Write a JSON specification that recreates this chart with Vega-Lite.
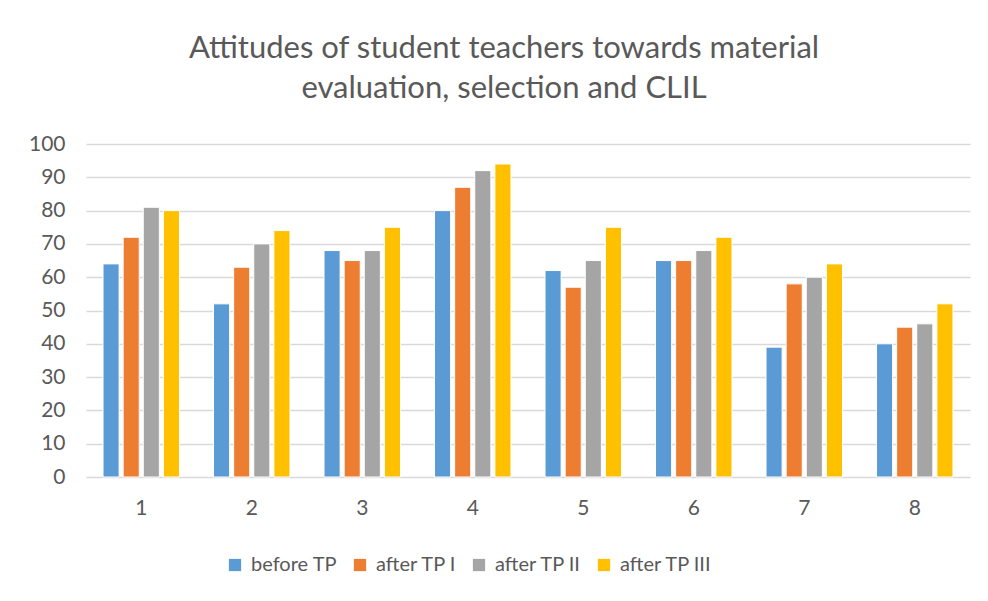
{
  "$schema": "https://vega.github.io/schema/vega-lite/v6.json",
  "width": 884,
  "height": 333,
  "autosize": {"type": "none"},
  "padding": {"left": 86, "top": 144, "right": 18, "bottom": 124},
  "background": "white",
  "title": {
    "text": ["Attitudes of student teachers towards material", "evaluation, selection and CLIL"],
    "font": "Lato",
    "fontSize": 31,
    "fontWeight": "normal",
    "color": "#595959",
    "anchor": "middle",
    "lineHeight": 40,
    "offset": 28,
    "dx": -24
  },
  "data": {
    "values": [
      {"group": "1", "series": "before TP", "value": 64},
      {"group": "1", "series": "after TP I", "value": 72},
      {"group": "1", "series": "after TP II", "value": 81},
      {"group": "1", "series": "after TP III", "value": 80},
      {"group": "2", "series": "before TP", "value": 52},
      {"group": "2", "series": "after TP I", "value": 63},
      {"group": "2", "series": "after TP II", "value": 70},
      {"group": "2", "series": "after TP III", "value": 74},
      {"group": "3", "series": "before TP", "value": 68},
      {"group": "3", "series": "after TP I", "value": 65},
      {"group": "3", "series": "after TP II", "value": 68},
      {"group": "3", "series": "after TP III", "value": 75},
      {"group": "4", "series": "before TP", "value": 80},
      {"group": "4", "series": "after TP I", "value": 87},
      {"group": "4", "series": "after TP II", "value": 92},
      {"group": "4", "series": "after TP III", "value": 94},
      {"group": "5", "series": "before TP", "value": 62},
      {"group": "5", "series": "after TP I", "value": 57},
      {"group": "5", "series": "after TP II", "value": 65},
      {"group": "5", "series": "after TP III", "value": 75},
      {"group": "6", "series": "before TP", "value": 65},
      {"group": "6", "series": "after TP I", "value": 65},
      {"group": "6", "series": "after TP II", "value": 68},
      {"group": "6", "series": "after TP III", "value": 72},
      {"group": "7", "series": "before TP", "value": 39},
      {"group": "7", "series": "after TP I", "value": 58},
      {"group": "7", "series": "after TP II", "value": 60},
      {"group": "7", "series": "after TP III", "value": 64},
      {"group": "8", "series": "before TP", "value": 40},
      {"group": "8", "series": "after TP I", "value": 45},
      {"group": "8", "series": "after TP II", "value": 46},
      {"group": "8", "series": "after TP III", "value": 52}
    ]
  },
  "mark": {"type": "bar", "stroke": "white", "strokeWidth": 1},
  "encoding": {
    "x": {
      "field": "group",
      "type": "nominal",
      "scale": {"paddingInner": 0.29, "paddingOuter": 0.145},
      "axis": {
        "title": null,
        "labelAngle": 0,
        "domain": false,
        "ticks": false,
        "labelPadding": 20,
        "labelFont": "Lato",
        "labelFontSize": 21,
        "labelColor": "#595959"
      }
    },
    "xOffset": {
      "field": "series",
      "type": "nominal",
      "sort": ["before TP", "after TP I", "after TP II", "after TP III"],
      "scale": {"paddingInner": 0.2, "paddingOuter": 0.05}
    },
    "y": {
      "field": "value",
      "type": "quantitative",
      "scale": {"domain": [0, 100]},
      "axis": {
        "title": null,
        "values": [0, 10, 20, 30, 40, 50, 60, 70, 80, 90, 100],
        "labelOverlap": false,
        "domain": false,
        "ticks": false,
        "labelPadding": 21,
        "labelFont": "Lato",
        "labelFontSize": 21,
        "labelColor": "#595959",
        "gridColor": "#D9D9D9",
        "gridWidth": 1.5
      }
    },
    "color": {
      "field": "series",
      "type": "nominal",
      "sort": ["before TP", "after TP I", "after TP II", "after TP III"],
      "scale": {
        "domain": ["before TP", "after TP I", "after TP II", "after TP III"],
        "range": ["#5B9BD5", "#ED7D31", "#A5A5A5", "#FFC000"]
      },
      "legend": {
        "title": null,
        "orient": "none",
        "legendX": 139,
        "legendY": 411,
        "direction": "horizontal",
        "symbolType": "square",
        "symbolSize": 150,
        "symbolStrokeWidth": 0,
        "labelFont": "Lato",
        "labelFontSize": 20,
        "labelColor": "#595959",
        "labelOffset": 6,
        "columnPadding": 12
      }
    }
  },
  "config": {
    "view": {"stroke": null}
  }
}
